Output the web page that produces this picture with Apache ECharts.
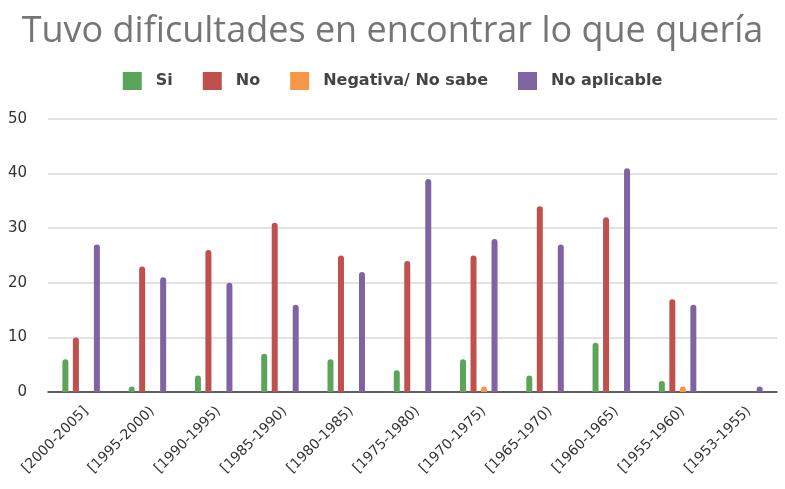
<!DOCTYPE html>
<html>
<head>
<meta charset="utf-8">
<script src="https://cdn.jsdelivr.net/npm/echarts@6/dist/echarts.min.js"></script>
<style>
  html, body { margin: 0; padding: 0; background: #fff; }
  #chart { width: 785px; height: 489px; }
</style>
</head>
<body>
<div id="chart"></div>
<script>
// categorías (periodos de nacimiento)
const categories = ['[2000-2005]', '[1995-2000)', '[1990-1995)', '[1985-1990)', '[1980-1985)',
  '[1975-1980)', '[1970-1975)', '[1965-1970)', '[1960-1965)', '[1955-1960)', '[1953-1955)']
const siData = [6, 1, 3, 7, 6, 4, 6, 3, 9, 2, 0]
const noData = [10, 23, 26, 31, 25, 24, 25, 34, 32, 17, 0]
const negativaData = [0, 0, 0, 0, 0, 0, 1, 0, 0, 1, 0]
const noAplicableData = [27, 21, 20, 16, 22, 39, 28, 27, 41, 16, 1]
const yTicks = [0, 10, 20, 30, 40, 50]

const chart = echarts.init(document.getElementById('chart'))

const makeSeries = (name, data, color) => ({
  name: name,
  type: 'bar',
  data: data,
  barWidth: 6,
  barGap: '75%',
  itemStyle: { color: color, borderRadius: [3, 3, 0, 0] }
})

const option = {
  animation: false,
  title: {
    text: 'Tuvo dificultades en encontrar lo que quería',
    left: 'center',
    top: 9,
    textStyle: {
      fontFamily: 'Open Sans',
      fontSize: 36,
      fontWeight: 'normal',
      color: '#757575'
    }
  },
  legend: {
    top: 67,
    left: 'center',
    itemWidth: 19,
    itemHeight: 18,
    itemGap: 30,
    icon: 'rect',
    textStyle: {
      fontFamily: 'DejaVu Sans',
      fontSize: 16,
      fontWeight: 'bold',
      color: '#444',
      padding: [0, 0, 0, 9]
    },
    data: ['Si', 'No', 'Negativa/ No sabe', 'No aplicable']
  },
  grid: { left: 48, right: 8, top: 119, bottom: 97 },
  xAxis: {
    type: 'category',
    data: categories,
    axisTick: { show: false },
    axisLine: { lineStyle: { color: '#333', width: 1.5 } },
    axisLabel: {
      rotate: 45,
      interval: 0,
      margin: 12,
      verticalAlign: 'top',
      fontFamily: 'DejaVu Sans',
      fontSize: 14,
      color: '#333'
    }
  },
  yAxis: {
    type: 'value',
    min: yTicks[0],
    max: yTicks[yTicks.length - 1],
    interval: 10,
    axisLine: { show: false },
    axisTick: { show: false },
    splitLine: { lineStyle: { color: '#d9d9d9', width: 1.5 } },
    axisLabel: {
      margin: 21,
      fontFamily: 'DejaVu Sans',
      fontSize: 15,
      color: '#333'
    }
  },
  series: [
    makeSeries('Si', siData, '#5BA55B'),
    makeSeries('No', noData, '#C0504D'),
    makeSeries('Negativa/ No sabe', negativaData, '#F79646'),
    makeSeries('No aplicable', noAplicableData, '#8064A2')
  ]
}

chart.setOption(option)
</script>
</body>
</html>
